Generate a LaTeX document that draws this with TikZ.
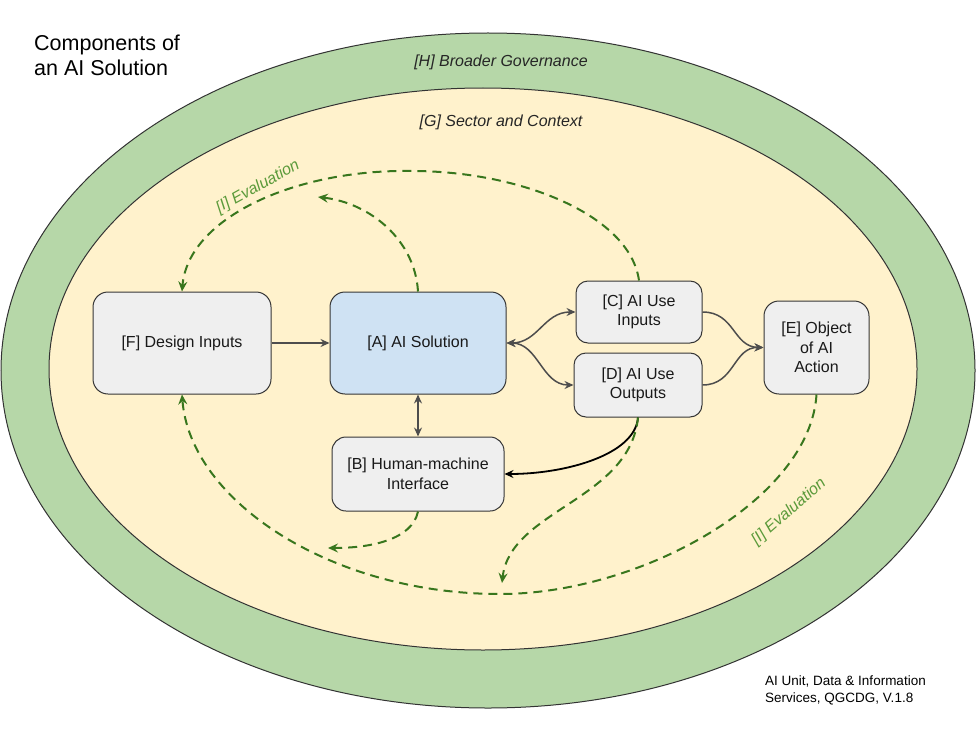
\documentclass[tikz,border=0pt]{standalone}
\usepackage{fontspec}
\setmainfont{Liberation Sans}
\usetikzlibrary{arrows.meta}
\definecolor{ringgreen}{HTML}{B6D7A8}
\definecolor{ctxyellow}{HTML}{FFF2CC}
\definecolor{boxgrey}{HTML}{EFEFEF}
\definecolor{aiblue}{HTML}{CFE2F3}
\definecolor{evalgreen}{HTML}{38761D}
\definecolor{evaltext}{HTML}{5B9A3A}
\definecolor{linegrey}{HTML}{4D4D4D}
\definecolor{boxline}{HTML}{363636}
\begin{document}
\begin{tikzpicture}[x=1pt,y=-1pt,
  boxnode/.style={draw=boxline, line width=1pt, fill=boxgrey, align=center, inner sep=0pt,
    font=\fontsize{16}{19.5}\selectfont, text=black!90},
  bigbox/.style={boxnode, rounded corners=15pt, minimum height=102pt},
  smallbox/.style={boxnode, rounded corners=12pt},
  solidconn/.style={draw=linegrey, line width=1.5pt, {Stealth[length=9pt,width=8pt,inset=3pt]}-{Stealth[length=9pt,width=8pt,inset=3pt]}},
  oneway/.style={draw=linegrey, line width=1.5pt, -{Stealth[length=9pt,width=8pt,inset=3pt]}},
  evalconn/.style={draw=evalgreen, line width=2pt, dash pattern=on 9pt off 6pt, -{Stealth[length=10pt,width=9pt,inset=3.5pt]}},
  ringlabel/.style={font=\fontsize{16}{19}\selectfont\itshape, text=black!85, inner sep=0pt},
  evallabel/.style={font=\fontsize{16}{19}\selectfont\itshape, text=evaltext, inner sep=0pt}
]
\useasboundingbox (0,0) rectangle (979,733);
\fill[white] (0,0) rectangle (979,733);

% rings
\draw[fill=ringgreen, draw=black!80, line width=1pt] (488,370.5) ellipse [x radius=487pt, y radius=337.5pt];
\draw[fill=ctxyellow, draw=black!80, line width=1pt] (483,369) ellipse [x radius=434pt, y radius=281pt];

% texts
\node[anchor=north west, align=left, inner sep=0pt, font=\fontsize{21.5}{24.5}\selectfont] (title) at (34,35) {Components of\\an AI Solution};
\node[ringlabel] (hlabel) at (501,62) {[H] Broader Governance};
\node[ringlabel] (glabel) at (501,122) {[G] Sector and Context};
\node[anchor=north west, align=left, inner sep=0pt, font=\fontsize{13.5}{17}\selectfont] (footer) at (765,676) {AI Unit, Data \& Information\\Services, QGCDG, V.1.8};

% boxes
\node[bigbox, minimum width=178pt] (F) at (182,343) {[F] Design Inputs};
\node[bigbox, minimum width=176pt, fill=aiblue] (A) at (418,343) {[A] AI Solution};
\node[smallbox, minimum width=126pt, minimum height=62pt] (C) at (639,312) {[C] AI Use\\Inputs};
\node[smallbox, minimum width=128pt, minimum height=64pt] (D) at (638,385) {[D] AI Use\\Outputs};
\node[smallbox, rounded corners=15pt, minimum width=105pt, minimum height=93pt] (E) at (816.5,347.5) {[E] Object\\of AI\\Action};
\node[smallbox, rounded corners=14pt, minimum width=172pt, minimum height=74pt] (B) at (418,474) {[B] Human-machine\\Interface};

% solid connectors
\draw[oneway] (F.east) -- (A.west);
\draw[solidconn] (A.east) .. controls (538,343) and (544,312) .. (C.west);
\draw[solidconn] (A.east) .. controls (538,343) and (542,385) .. (D.west);
\draw[oneway] (C.east) .. controls (735,312) and (733,347) .. (E.west);
\draw[oneway] (D.east) .. controls (735,385) and (733,347) .. (E.west);
\draw[solidconn] (A.south) -- (B.north);
\draw[draw=black, line width=1.8pt, -{Stealth[length=9pt,width=8pt,inset=3pt]}] (D.south) .. controls (635,455) and (565,474) .. (B.east);

% evaluation loops
\coordinate (toppeak) at (412,171);
\coordinate (botlow) at (500,594);
\draw[evalconn] (C.north) .. controls (630,215) and (520,171) .. (toppeak) .. controls (295,169) and (188,218) .. (F.north);
\draw[evalconn] (A.north) .. controls (415,240) and (370,203) .. (318,197);
\draw[evalconn] (E.south) .. controls (810,500) and (640,594) .. (botlow) .. controls (330,594) and (190,500) .. (F.south);
\draw[evalconn] (B.south) .. controls (412,540) and (370,548) .. (328,548);
\draw[evalconn] (D.south) .. controls (630,500) and (510,510) .. (502,583);

\node[evallabel, rotate=29] (evaltop) at (258,187) {[I] Evaluation};
\node[evallabel, rotate=41] (evalbot) at (789,512) {[I] Evaluation};
\end{tikzpicture}
\end{document}
